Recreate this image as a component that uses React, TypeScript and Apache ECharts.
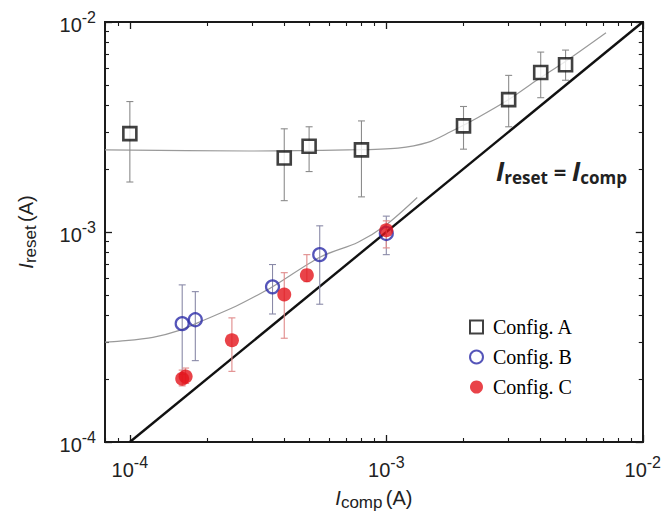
import React, { useEffect, useRef } from "react";
import * as echarts from "echarts";

// Axis ranges (log axes drawn in log10 space)
const X_MIN = 8.0e-5;
const X_MAX = 1e-2;
const Y_MIN = 1e-4;
const Y_MAX = 1e-2;
const majorTicks = [1e-4, 1e-3, 1e-2];
const minorMultipliers = [2, 3, 4, 5, 6, 7, 8, 9];

// Config. A
const aX = [1.0e-4, 4.0e-4, 5.0e-4, 8.0e-4, 2.0e-3, 3.0e-3, 4.0e-3, 5.0e-3];
const aY = [2.94e-3, 2.25e-3, 2.56e-3, 2.46e-3, 3.2e-3, 4.27e-3, 5.75e-3, 6.26e-3];
const aLow = [1.73e-3, 1.41e-3, 1.94e-3, 1.47e-3, 2.48e-3, 3.17e-3, 4.36e-3, 5.28e-3];
const aHigh = [4.18e-3, 3.1e-3, 3.17e-3, 3.38e-3, 3.96e-3, 5.57e-3, 7.19e-3, 7.35e-3];

// Config. B
const bX = [1.6e-4, 1.8e-4, 3.6e-4, 5.5e-4, 1.0e-3];
const bY = [3.66e-4, 3.82e-4, 5.48e-4, 7.8e-4, 9.84e-4];
const bLow = [2.1e-4, 2.44e-4, 4.07e-4, 4.53e-4, 7.8e-4];
const bHigh = [5.6e-4, 5.2e-4, 7.0e-4, 1.07e-3, 1.19e-3];

// Config. C
const cX = [1.6e-4, 1.65e-4, 2.5e-4, 4.0e-4, 4.9e-4, 1.0e-3];
const cY = [2.0e-4, 2.05e-4, 3.05e-4, 5.04e-4, 6.23e-4, 1.02e-3];
const cLow = [1.85e-4, 1.9e-4, 2.17e-4, 3.12e-4, 5.8e-4, 8.4e-4];
const cHigh = [2.2e-4, 2.25e-4, 3.9e-4, 6.4e-4, 7.8e-4, 1.13e-3];

// Fit curve through Config. A
const fitAX = [8.0e-5, 2.91e-4, 7.1e-4, 1.11e-3, 1.45e-3, 1.78e-3, 2.26e-3, 3.0e-3, 3.86e-3, 5.04e-3, 7.19e-3];
const fitAY = [2.46e-3, 2.43e-3, 2.46e-3, 2.51e-3, 2.67e-3, 3.0e-3, 3.49e-3, 4.27e-3, 5.28e-3, 6.54e-3, 8.89e-3];

// Fit curve through Config. B
const fitBX = [8.0e-5, 9.15e-5, 1.23e-4, 1.56e-4, 1.92e-4, 2.59e-4, 3.18e-4, 3.6e-4, 5.53e-4, 7.76e-4, 1.0e-3, 1.32e-3];
const fitBY = [2.99e-4, 3.02e-4, 3.15e-4, 3.4e-4, 3.78e-4, 4.43e-4, 5.04e-4, 5.48e-4, 7.6e-4, 8.94e-4, 1.083e-3, 1.459e-3];

// Identity line I_reset = I_comp
const diagX = [1e-4, 1e-2];
const diagY = [1e-4, 1e-2];

const L = (v: number) => Math.log10(v);
const minorTicks: number[] = [];
[1e-5, 1e-4, 1e-3].forEach((d) =>
  minorMultipliers.forEach((m) => minorTicks.push(d * m))
);

const pairs = (xs: number[], ys: number[]) => xs.map((x, i) => [L(x), L(ys[i])]);
const errs = (xs: number[], lo: number[], hi: number[]) =>
  xs.map((x, i) => [L(x), L(lo[i]), L(hi[i])]);

const SANS = "'Liberation Sans', Arial, sans-serif";
const SERIF = "'Liberation Serif', 'Times New Roman', serif";
const BOLD = "'Open Sans', 'Liberation Sans', sans-serif";

const powLabel = (v: number) => `{b|10}{s|${Math.round(v)}}`;
const powRich = {
  b: { fontSize: 20, lineHeight: 26, verticalAlign: "bottom", color: "#222", fontFamily: SANS },
  s: { fontSize: 16, lineHeight: 16, verticalAlign: "top", color: "#222", fontFamily: SANS },
};
const nameRich = {
  i: { fontSize: 20, lineHeight: 26, fontStyle: "italic", fontFamily: SANS, color: "#222", verticalAlign: "middle" },
  s: { fontSize: 17, lineHeight: 17, fontFamily: SANS, color: "#222", verticalAlign: "bottom" },
  t: { fontSize: 20, lineHeight: 26, fontFamily: SANS, color: "#222", verticalAlign: "middle" },
};

function errorSeries(data: number[][], color: string) {
  return {
    type: "custom",
    xAxisIndex: 0,
    yAxisIndex: 0,
    data,
    encode: { x: 0, y: [1, 2] },
    silent: true,
    z: 3,
    renderItem: (_p: any, api: any) => {
      const x = api.value(0);
      const p1 = api.coord([x, api.value(1)]);
      const p2 = api.coord([x, api.value(2)]);
      const w = 3.5;
      const style = { stroke: color, lineWidth: 1.1 };
      return {
        type: "group",
        children: [
          { type: "line", shape: { x1: p1[0], y1: p1[1], x2: p2[0], y2: p2[1] }, style },
          { type: "line", shape: { x1: p1[0] - w, y1: p1[1], x2: p1[0] + w, y2: p1[1] }, style },
          { type: "line", shape: { x1: p2[0] - w, y1: p2[1], x2: p2[0] + w, y2: p2[1] }, style },
        ],
      };
    },
  };
}

export default function App() {
  const ref = useRef<HTMLDivElement>(null);
  useEffect(() => {
    if (!ref.current) return;
    const chart = echarts.init(ref.current, null, { renderer: "svg" });
    const lineStyle = { color: "#1a1a1a", width: 1.8 };
    const baseAxis = (extra: any) => ({
      type: "value",
      splitLine: { show: false },
      axisLine: { show: true, onZero: false, lineStyle },
      ...extra,
    });
    const xRange = { min: L(X_MIN), max: L(X_MAX) };
    const yRange = { min: L(Y_MIN), max: L(Y_MAX) };
    const major = majorTicks.map(L);
    const minor = minorTicks.map(L).filter((v) => v > L(X_MIN) - 1e-9);
    const minorY = minorTicks.map(L).filter((v) => v > L(Y_MIN));

    const tickMajor = { show: true, inside: true, length: 7, customValues: major, lineStyle: { color: "#1a1a1a", width: 1.3 } };
    const tickMinorX = { show: true, inside: true, length: 4, customValues: minor, lineStyle: { color: "#1a1a1a", width: 1.1 } };
    const tickMinorY = { show: true, inside: true, length: 4, customValues: minorY, lineStyle: { color: "#1a1a1a", width: 1.1 } };
    const noLabel = { show: false };

    chart.setOption({
      animation: false,
      backgroundColor: "#fff",
      grid: { left: 97, right: 17, top: 14, bottom: 61, containLabel: false },
      xAxis: [
        baseAxis({
          ...xRange,
          position: "bottom",
          axisTick: tickMajor,
          axisLabel: {
            show: true,
            customValues: major,
            margin: 12,
            formatter: powLabel,
            rich: powRich,
          },
          name: "{i|I}{s|comp} {t|(A)}",
          nameLocation: "middle",
          nameGap: 43,
          nameTextStyle: { rich: nameRich },
        }),
        baseAxis({ ...xRange, position: "bottom", axisTick: tickMinorX, axisLabel: noLabel }),
        baseAxis({ ...xRange, position: "top", axisTick: tickMajor, axisLabel: noLabel }),
        baseAxis({ ...xRange, position: "top", axisTick: tickMinorX, axisLabel: noLabel }),
      ],
      yAxis: [
        baseAxis({
          ...yRange,
          position: "left",
          axisTick: tickMajor,
          axisLabel: {
            show: true,
            customValues: major,
            margin: 9,
            formatter: powLabel,
            rich: powRich,
          },
          name: "{i|I}{s|reset} {t|(A)}",
          nameLocation: "middle",
          nameGap: 66,
          nameRotate: 90,
          nameTextStyle: { rich: nameRich },
        }),
        baseAxis({ ...yRange, position: "left", axisTick: tickMinorY, axisLabel: noLabel }),
        baseAxis({ ...yRange, position: "right", axisTick: tickMajor, axisLabel: noLabel }),
        baseAxis({ ...yRange, position: "right", axisTick: tickMinorY, axisLabel: noLabel }),
      ],
      legend: {
        orient: "vertical",
        left: 456,
        top: 304,
        itemWidth: 13,
        itemHeight: 13,
        itemGap: 10,
        textStyle: { fontFamily: SERIF, fontSize: 20, color: "#000", padding: [0, 0, 0, 5] },
        data: ["Config. A", "Config. B", "Config. C"],
      },
      graphic: [
        {
          type: "text",
          left: 488,
          top: 150,
          style: {
            text: "{i|I}{s|reset}{e| = }{i|I}{s|comp}",
            rich: {
              i: { fontSize: 26, lineHeight: 30, fontWeight: "bold", fontStyle: "italic", fontFamily: BOLD, fill: "#222", verticalAlign: "middle" },
              s: { fontSize: 17, lineHeight: 17, fontWeight: "bold", fontFamily: BOLD, fill: "#222", verticalAlign: "bottom" },
              e: { fontSize: 22, lineHeight: 30, fontWeight: "bold", fontFamily: BOLD, fill: "#222", verticalAlign: "middle" },
            },
          },
        },
      ],
      series: [
        {
          name: "fitA",
          type: "line",
          data: pairs(fitAX, fitAY),
          smooth: 0.3,
          showSymbol: false,
          silent: true,
          lineStyle: { color: "#9a9a9a", width: 1.2 },
          z: 1,
        },
        {
          name: "fitB",
          type: "line",
          data: pairs(fitBX, fitBY),
          smooth: 0.3,
          showSymbol: false,
          silent: true,
          lineStyle: { color: "#9a9a9a", width: 1.2 },
          z: 1,
        },
        {
          name: "identity",
          type: "line",
          data: pairs(diagX, diagY),
          showSymbol: false,
          silent: true,
          lineStyle: { color: "#111", width: 2.4 },
          z: 2,
        },
        errorSeries(errs(aX, aLow, aHigh), "#8c8c8c"),
        errorSeries(errs(bX, bLow, bHigh), "#8a8aa8"),
        errorSeries(errs(cX, cLow, cHigh), "#e08a8a"),
        {
          name: "Config. A",
          type: "scatter",
          data: pairs(aX, aY),
          symbol: "rect",
          symbolSize: 13,
          itemStyle: { color: "#ffffff", borderColor: "#111", borderWidth: 2.6 },
          z: 5,
        },
        {
          name: "Config. B",
          type: "scatter",
          data: pairs(bX, bY),
          symbol: "circle",
          symbolSize: 13,
          itemStyle: { color: "rgba(255,255,255,0)", borderColor: "#2a2aa8", borderWidth: 2.2 },
          z: 5,
        },
        {
          name: "Config. C",
          type: "scatter",
          data: pairs(cX, cY),
          symbol: "circle",
          symbolSize: 14,
          itemStyle: { color: "#e3141c" },
          z: 6,
        },
      ],
    });
    return () => chart.dispose();
  }, []);
  return <div ref={ref} style={{ width: 656, height: 508 }} />;
}
